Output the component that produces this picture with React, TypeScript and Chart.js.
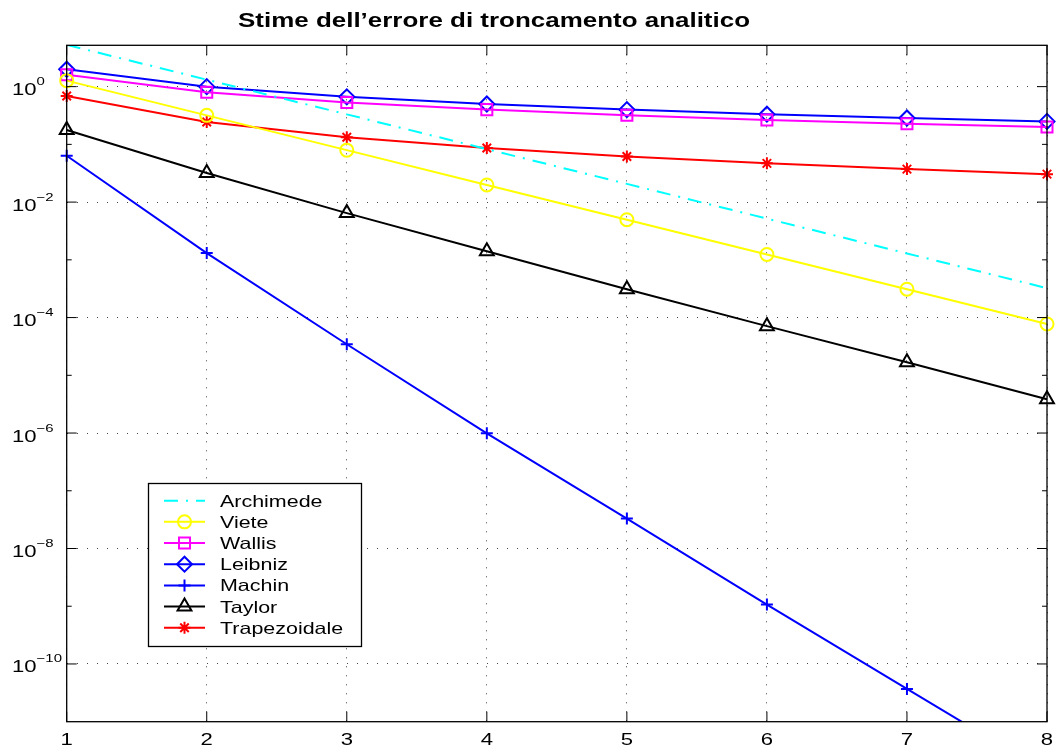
import React, { useEffect, useRef } from 'react';
import { Chart, registerables } from 'chart.js';

Chart.register(...registerables);

// ---- data ----
const xValues = [1, 2, 3, 4, 5, 6, 7, 8];
const archimede = [5.3, 1.32, 0.331, 0.0828, 0.0207, 0.00518, 0.00129, 3.23e-4];
const viete = [1.27, 0.318, 0.0794, 0.0198, 0.00496, 0.00124, 3.1e-4, 7.75e-5];
const wallis = [1.6, 0.8, 0.53, 0.4, 0.32, 0.265, 0.227, 0.2];
const leibniz = [2.0, 1.0, 0.667, 0.5, 0.4, 0.333, 0.286, 0.25];
const machin = [0.0636, 1.31e-3, 3.45e-5, 9.9e-7, 3.3e-8, 1.07e-9, 3.7e-11, 1.3e-12];
const taylor = [0.177, 0.0319, 0.00645, 0.00141, 3.1e-4, 7.1e-5, 1.68e-5, 3.84e-6];
const trapezoidale = [0.69, 0.244, 0.133, 0.0863, 0.0617, 0.0469, 0.0373, 0.0305];

const seriesLabels = ['Archimede', 'Viete', 'Wallis', 'Leibniz', 'Machin', 'Taylor', 'Trapezoidale'];
const xTickValues = [1, 2, 3, 4, 5, 6, 7, 8];
const yMajorExponents = [0, -2, -4, -6, -8, -10];
const yMinorExponents = [-1, -3, -5, -7, -9];
const titleText = 'Stime dell\u2019errore di troncamento analitico';

const FONT = '"Liberation Sans", Arial, Helvetica, sans-serif';
const SX = 1.3; // horizontal stretch of the reference's text

type Marker = 'none' | 'circle' | 'rect' | 'rectRot' | 'cross' | 'triangle' | 'star';

function drawMarker(ctx: CanvasRenderingContext2D, style: Marker, x: number, y: number, r: number) {
  if (style === 'none') return;
  ctx.beginPath();
  switch (style) {
    case 'circle':
      ctx.arc(x, y, r, 0, Math.PI * 2);
      break;
    case 'rect': {
      const s = r * Math.SQRT1_2;
      ctx.rect(x - s, y - s, 2 * s, 2 * s);
      break;
    }
    case 'rectRot':
      ctx.moveTo(x - r, y);
      ctx.lineTo(x, y - r);
      ctx.lineTo(x + r, y);
      ctx.lineTo(x, y + r);
      ctx.closePath();
      break;
    case 'cross':
      ctx.moveTo(x - r, y);
      ctx.lineTo(x + r, y);
      ctx.moveTo(x, y - r);
      ctx.lineTo(x, y + r);
      break;
    case 'triangle':
      ctx.moveTo(x, y - r);
      ctx.lineTo(x + r * 0.866, y + r * 0.5);
      ctx.lineTo(x - r * 0.866, y + r * 0.5);
      ctx.closePath();
      break;
    case 'star': {
      ctx.moveTo(x - r, y);
      ctx.lineTo(x + r, y);
      ctx.moveTo(x, y - r);
      ctx.lineTo(x, y + r);
      const d = r * Math.SQRT1_2;
      ctx.moveTo(x - d, y - d);
      ctx.lineTo(x + d, y + d);
      ctx.moveTo(x - d, y + d);
      ctx.lineTo(x + d, y - d);
      break;
    }
  }
  ctx.stroke();
}

function drawStretched(
  ctx: CanvasRenderingContext2D,
  text: string,
  x: number,
  y: number,
  font: string,
  align: 'left' | 'center' | 'right',
  scale: number = SX
) {
  ctx.save();
  ctx.font = font;
  const w = ctx.measureText(text).width * scale;
  let left = x;
  if (align === 'center') left = x - w / 2;
  else if (align === 'right') left = x - w;
  ctx.translate(left, y);
  ctx.scale(scale, 1);
  ctx.textAlign = 'left';
  ctx.textBaseline = 'alphabetic';
  ctx.fillText(text, 0, 0);
  ctx.restore();
  return w;
}

const decorPlugin = {
  id: 'matlabDecor',
  afterDraw(chart: any) {
    const ctx: CanvasRenderingContext2D = chart.ctx;
    const area = chart.chartArea;
    const xs = chart.scales.x;
    const ys = chart.scales.y;
    ctx.save();
    ctx.fillStyle = '#000';
    ctx.strokeStyle = '#000';

    // axes box
    ctx.lineWidth = 1.3;
    ctx.setLineDash([]);
    ctx.strokeRect(area.left, area.top, area.right - area.left, area.bottom - area.top);

    // inward ticks
    ctx.lineWidth = 1;
    ctx.beginPath();
    yMajorExponents.forEach((e) => {
      const py = ys.getPixelForValue(Math.pow(10, e));
      ctx.moveTo(area.left, py);
      ctx.lineTo(area.left + 10, py);
      ctx.moveTo(area.right, py);
      ctx.lineTo(area.right - 10, py);
    });
    yMinorExponents.forEach((e) => {
      const py = ys.getPixelForValue(Math.pow(10, e));
      ctx.moveTo(area.left, py);
      ctx.lineTo(area.left + 5, py);
      ctx.moveTo(area.right, py);
      ctx.lineTo(area.right - 5, py);
    });
    xTickValues.forEach((v) => {
      const px = xs.getPixelForValue(v);
      ctx.moveTo(px, area.bottom);
      ctx.lineTo(px, area.bottom - 10);
      ctx.moveTo(px, area.top);
      ctx.lineTo(px, area.top + 10);
    });
    ctx.stroke();

    // y tick labels 10^e
    yMajorExponents.forEach((e) => {
      const py = ys.getPixelForValue(Math.pow(10, e));
      const w = drawStretched(ctx, '10', 12, py + 8.5, `17px ${FONT}`, 'left');
      const exp = e === 0 ? '0' : '\u2212' + String(Math.abs(e));
      drawStretched(ctx, exp, 12 + w, py - 1.5, `11.5px ${FONT}`, 'left');
    });

    // x tick labels
    xTickValues.forEach((v) => {
      const px = xs.getPixelForValue(v);
      drawStretched(ctx, String(v), px, 745, `17px ${FONT}`, 'center');
    });

    // title
    ctx.font = `bold 20.5px ${FONT}`;
    const tw = ctx.measureText(titleText).width;
    drawStretched(ctx, titleText, 238, 27, `bold 20.5px ${FONT}`, 'left', 512 / tw);

    // legend
    const lx0 = 148.5, ly0 = 483.5, lx1 = 361.5, ly1 = 646.5;
    ctx.fillStyle = '#fff';
    ctx.fillRect(lx0, ly0, lx1 - lx0, ly1 - ly0);
    ctx.strokeStyle = '#000';
    ctx.lineWidth = 1.3;
    ctx.strokeRect(lx0, ly0, lx1 - lx0, ly1 - ly0);
    chart.data.datasets.forEach((ds: any, i: number) => {
      const cy = 500.7 + i * 21.17;
      ctx.strokeStyle = ds.borderColor;
      ctx.lineWidth = ds.borderWidth;
      ctx.setLineDash(ds.borderDash || []);
      ctx.beginPath();
      ctx.moveTo(164, cy);
      ctx.lineTo(205, cy);
      ctx.stroke();
      ctx.setLineDash([]);
      ctx.lineWidth = ds.pointBorderWidth;
      drawMarker(ctx, ds.markerStyle, 184.5, cy, ds.pointRadius);
      ctx.fillStyle = '#000';
      drawStretched(ctx, ds.label, 220, cy + 6, `16.5px ${FONT}`, 'left');
    });
    ctx.restore();
  },
};

function makeDataset(
  label: string,
  values: number[],
  color: string,
  marker: Marker,
  radius: number,
  clip: any,
  dash?: number[]
) {
  return {
    label,
    data: xValues.map((x, i) => ({ x, y: values[i] })),
    borderColor: color,
    borderWidth: 2,
    borderDash: dash || [],
    backgroundColor: color,
    pointStyle: marker === 'none' ? false : marker,
    markerStyle: marker,
    pointRadius: marker === 'none' ? 0 : radius,
    pointHoverRadius: marker === 'none' ? 0 : radius,
    pointBorderColor: color,
    pointBackgroundColor: 'rgba(0,0,0,0)',
    pointBorderWidth: 2,
    tension: 0,
    clip,
  };
}

export default function App() {
  const canvasRef = useRef<HTMLCanvasElement | null>(null);

  useEffect(() => {
    document.body.style.margin = '0';
    const canvas = canvasRef.current;
    if (!canvas) return;
    const full = { left: 14, right: 14, top: 14, bottom: 14 };
    const dashDot = [14, 8, 2, 8];
    const chart = new Chart(canvas, {
      type: 'line',
      data: {
        datasets: [
          makeDataset(seriesLabels[0], archimede, '#00FFFF', 'none', 0, { left: 14, right: 14, top: 0, bottom: 14 }, dashDot),
          makeDataset(seriesLabels[1], viete, '#FFFF00', 'circle', 6.5, full),
          makeDataset(seriesLabels[2], wallis, '#FF00FF', 'rect', 7.8, full),
          makeDataset(seriesLabels[3], leibniz, '#0000FF', 'rectRot', 7.5, full),
          makeDataset(seriesLabels[4], machin, '#0000FF', 'cross', 6, { left: 14, right: 14, top: 14, bottom: 0 }),
          makeDataset(seriesLabels[5], taylor, '#000000', 'triangle', 8, full),
          makeDataset(seriesLabels[6], trapezoidale, '#FF0000', 'star', 6, full),
        ] as any,
      },
      options: {
        responsive: false,
        maintainAspectRatio: false,
        animation: false,
        events: [],
        layout: { padding: { left: 0, right: 14, top: 45.3, bottom: 0 } },
        plugins: {
          legend: { display: false },
          title: { display: false },
          tooltip: { enabled: false },
        },
        scales: {
          x: {
            type: 'linear',
            min: 1,
            max: 8,
            afterBuildTicks: (s: any) => {
              s.ticks = xTickValues.map((v) => ({ value: v }));
            },
            afterFit: (s: any) => {
              s.height = 32.3;
            },
            ticks: { display: false },
            grid: { color: '#444', lineWidth: 1, drawTicks: false },
            border: { display: false, dash: [1, 8] },
          },
          y: {
            type: 'logarithmic',
            min: 1e-11,
            max: 5.2,
            afterBuildTicks: (s: any) => {
              s.ticks = yMajorExponents.map((e) => ({ value: Math.pow(10, e) }));
            },
            afterFit: (s: any) => {
              s.width = 66.7;
            },
            ticks: { display: false },
            grid: { color: '#444', lineWidth: 1, drawTicks: false },
            border: { display: false, dash: [1, 9] },
          },
        },
      } as any,
      plugins: [decorPlugin],
    });
    return () => chart.destroy();
  }, []);

  return (
    <canvas
      ref={canvasRef}
      width={1061}
      height={754}
      style={{ display: 'block', width: '1061px', height: '754px', background: '#fff' }}
    />
  );
}
